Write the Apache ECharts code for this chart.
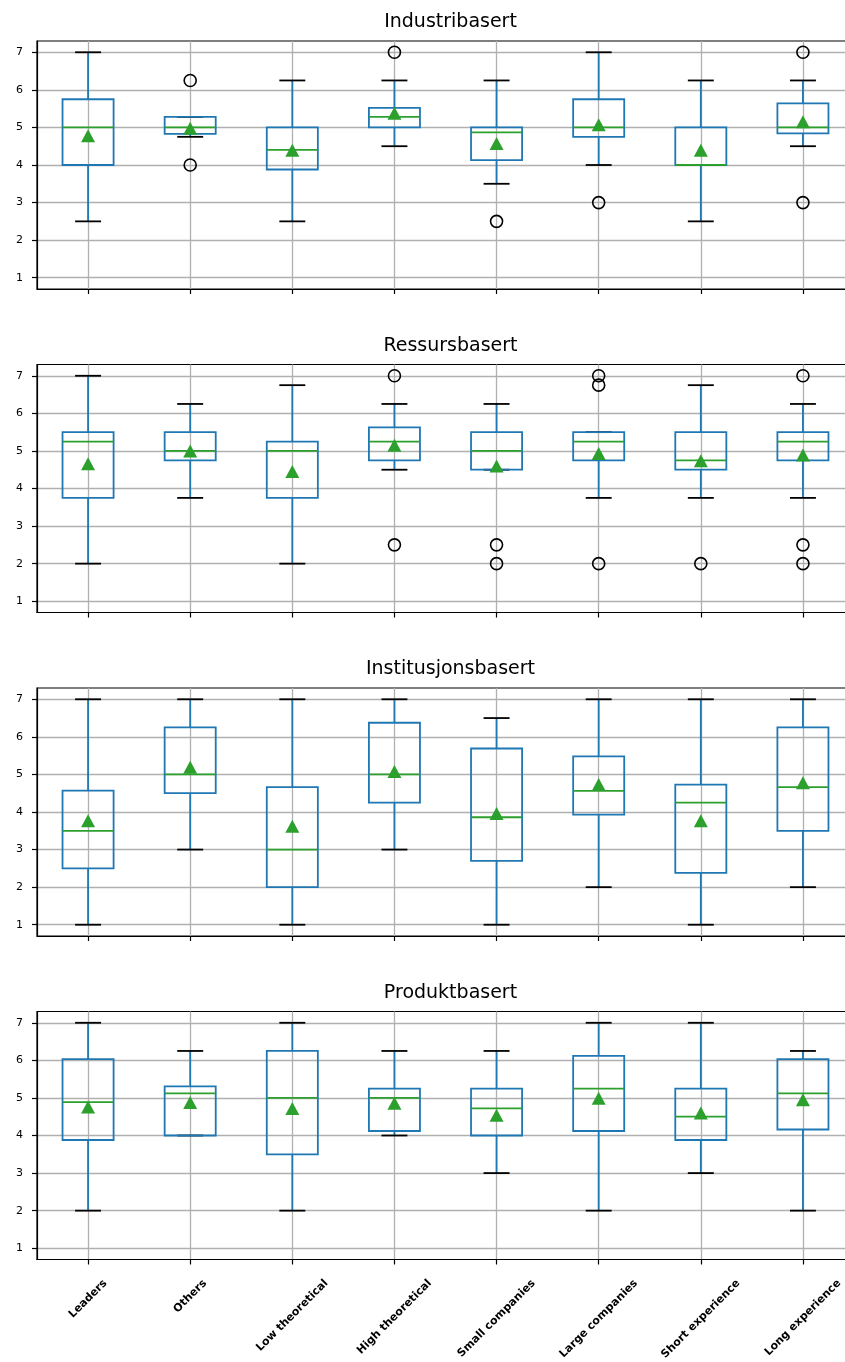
<!DOCTYPE html>
<html>
<head>
<meta charset="utf-8">
<script src="https://cdn.jsdelivr.net/npm/echarts@6/dist/echarts.min.js"></script>
<style>
  html, body { margin: 0; padding: 0; background: #fff; }
  #chart { width: 845px; height: 1362px; }
</style>
</head>
<body>
<div id="chart"></div>
<script>
// Respondent groups shown on every panel
const categories = ['Leaders', 'Others', 'Low theoretical', 'High theoretical',
  'Small companies', 'Large companies', 'Short experience', 'Long experience'];
const panelTitles = ['Industribasert', 'Ressursbasert', 'Institusjonsbasert', 'Produktbasert'];
const yTickValues = [1, 2, 3, 4, 5, 6, 7];

// Box rows per group: [lower whisker, Q1, median, Q3, upper whisker]
const industriBoxes = [
  [2.5, 4, 5, 5.75, 7],
  [4.75, 4.83, 5, 5.28, 5.28],
  [2.5, 3.88, 4.4, 5, 6.25],
  [4.5, 5, 5.28, 5.52, 6.25],
  [3.5, 4.13, 4.87, 5, 6.25],
  [4, 4.75, 5, 5.75, 7],
  [2.5, 4, 4, 5, 6.25],
  [4.5, 4.84, 5, 5.64, 6.25]
];
const industriMeans = [4.78, 4.98, 4.39, 5.38, 4.57, 5.07, 4.39, 5.15];
const industriOutliers = [
  ['Others', 6.25], ['Others', 4], ['High theoretical', 7], ['Small companies', 2.5],
  ['Large companies', 3], ['Long experience', 7], ['Long experience', 3]
];

const ressursBoxes = [
  [2, 3.75, 5.25, 5.5, 7],
  [3.75, 4.75, 5, 5.5, 6.25],
  [2, 3.75, 5, 5.25, 6.75],
  [4.5, 4.75, 5.25, 5.625, 6.25],
  [4.5, 4.5, 5, 5.5, 6.25],
  [3.75, 4.75, 5.25, 5.5, 5.5],
  [3.75, 4.5, 4.75, 5.5, 6.75],
  [3.75, 4.75, 5.25, 5.5, 6.25]
];
const ressursMeans = [4.66, 5.0, 4.45, 5.15, 4.6, 4.93, 4.74, 4.89];
const ressursOutliers = [
  ['High theoretical', 7], ['High theoretical', 2.5],
  ['Small companies', 2.5], ['Small companies', 2],
  ['Large companies', 7], ['Large companies', 6.75], ['Large companies', 2],
  ['Short experience', 2],
  ['Long experience', 7], ['Long experience', 2.5], ['Long experience', 2]
];

const institusjonBoxes = [
  [1, 2.5, 3.5, 4.57, 7],
  [3, 4.5, 5, 6.25, 7],
  [1, 2, 3, 4.66, 7],
  [3, 4.25, 5, 6.375, 7],
  [1, 2.7, 3.86, 5.69, 6.5],
  [2, 3.93, 4.56, 5.48, 7],
  [1, 2.38, 4.25, 4.73, 7],
  [2, 3.5, 4.66, 6.25, 7]
];
const institusjonMeans = [3.77, 5.19, 3.62, 5.08, 3.96, 4.73, 3.77, 4.78];
const institusjonOutliers = [];

const produktBoxes = [
  [2, 3.88, 4.89, 6.03, 7],
  [4, 4, 5.12, 5.31, 6.25],
  [2, 3.5, 5, 6.25, 7],
  [4, 4.12, 5, 5.25, 6.25],
  [3, 4, 4.72, 5.25, 6.25],
  [2, 4.12, 5.25, 6.12, 7],
  [3, 3.88, 4.5, 5.25, 7],
  [2, 4.16, 5.12, 6.03, 6.25]
];
const produktMeans = [4.76, 4.88, 4.72, 4.86, 4.54, 4.99, 4.6, 4.95];
const produktOutliers = [];

const panels = [
  { boxes: industriBoxes, means: industriMeans, outliers: industriOutliers },
  { boxes: ressursBoxes, means: ressursMeans, outliers: ressursOutliers },
  { boxes: institusjonBoxes, means: institusjonMeans, outliers: institusjonOutliers },
  { boxes: produktBoxes, means: produktMeans, outliers: produktOutliers }
];

// Styling and layout
const BLUE = '#1f77b4';
const GREEN = '#2ca02c';
const GRID_GRAY = '#b0b0b0';
const FONT = '"DejaVu Sans", sans-serif';
const PLOT_LEFT = 37;
const PLOT_WIDTH = 817;   // the plot frame runs slightly past the right edge of the page
const PLOT_HEIGHT = 248;
const PLOT_TOPS = [41, 364.5, 688, 1011.5];
const LABEL_SIZE = 11;

// Rotated category labels: centre each rotated label under its tick,
// padding shifts the text so its bounding box hangs below the axis.
const measureCtx = document.createElement('canvas').getContext('2d');
measureCtx.font = 'bold ' + LABEL_SIZE + 'px ' + FONT;
const labelRich = {};
categories.forEach(function (c, i) {
  const w = measureCtx.measureText(c).width;
  labelRich['c' + i] = {
    fontFamily: FONT, fontSize: LABEL_SIZE, fontWeight: 'bold', color: '#000',
    padding: [w / 2, w / 2, 0, 0]
  };
});

function renderBox(params, api) {
  const x = api.value(0);
  const lo = api.coord([x, api.value(1)]);
  const q1 = api.coord([x, api.value(2)]);
  const med = api.coord([x, api.value(3)]);
  const q3 = api.coord([x, api.value(4)]);
  const hi = api.coord([x, api.value(5)]);
  const band = api.size([1, 0])[0];
  const half = band * 0.25;
  const capHalf = band * 0.127;
  const cx = lo[0];
  const lw = 1.8;
  return {
    type: 'group',
    children: [
      { type: 'line', shape: { x1: cx, y1: q1[1], x2: cx, y2: lo[1] }, style: { stroke: BLUE, lineWidth: lw } },
      { type: 'line', shape: { x1: cx, y1: q3[1], x2: cx, y2: hi[1] }, style: { stroke: BLUE, lineWidth: lw } },
      { type: 'line', shape: { x1: cx - capHalf, y1: lo[1], x2: cx + capHalf, y2: lo[1] }, style: { stroke: '#000', lineWidth: lw } },
      { type: 'line', shape: { x1: cx - capHalf, y1: hi[1], x2: cx + capHalf, y2: hi[1] }, style: { stroke: '#000', lineWidth: lw } },
      { type: 'rect', shape: { x: cx - half, y: q3[1], width: half * 2, height: q1[1] - q3[1] },
        style: { fill: 'none', stroke: BLUE, lineWidth: lw } },
      { type: 'line', shape: { x1: cx - half, y1: med[1], x2: cx + half, y2: med[1] }, style: { stroke: GREEN, lineWidth: lw } }
    ]
  };
}

const grids = [], xAxes = [], yAxes = [], series = [], titles = [];

panels.forEach(function (p, i) {
  const top = PLOT_TOPS[i];
  titles.push({
    text: panelTitles[i],
    left: PLOT_LEFT + PLOT_WIDTH / 2,
    top: top - 33,
    textAlign: 'center',
    textStyle: { fontFamily: FONT, fontSize: 19, fontWeight: 'normal', color: '#000' }
  });
  grids.push({
    left: PLOT_LEFT, top: top, width: PLOT_WIDTH, height: PLOT_HEIGHT,
    outerBoundsMode: 'none', containLabel: false,
    show: true, borderColor: '#000', borderWidth: 1.2, backgroundColor: 'transparent'
  });
  const isLast = i === panels.length - 1;
  xAxes.push({
    type: 'category', gridIndex: i, data: categories, boundaryGap: true,
    axisLine: { show: true, lineStyle: { color: '#000', width: 1.2 } },
    axisTick: { show: true, alignWithLabel: true, interval: 0, length: 5, lineStyle: { color: '#000', width: 1.2 } },
    axisLabel: isLast ? {
      show: true, interval: 0, rotate: 45, margin: 22, align: 'center', verticalAlign: 'middle',
      hideOverlap: false,
      formatter: function (value, idx) { return '{c' + idx + '|' + value + '}'; },
      rich: labelRich
    } : { show: false },
    splitLine: { show: true, alignWithLabel: true, interval: 0, lineStyle: { color: GRID_GRAY, width: 1.3 } }
  });
  yAxes.push({
    type: 'value', gridIndex: i, min: 0.7, max: 7.3, splitNumber: 6,
    axisLine: { show: true, lineStyle: { color: '#000', width: 1.2 } },
    axisTick: { show: true, length: 5, customValues: yTickValues, lineStyle: { color: '#000', width: 1.2 } },
    axisLabel: {
      show: true, customValues: yTickValues,
      margin: 14, fontFamily: FONT, fontSize: 11, color: '#000'
    },
    splitLine: { show: true, lineStyle: { color: GRID_GRAY, width: 1.3 } }
  });
  series.push({
    type: 'custom', xAxisIndex: i, yAxisIndex: i, z: 3, silent: true,
    data: p.boxes.map(function (b, k) { return [k].concat(b); }),
    encode: { x: 0, y: [1, 2, 3, 4, 5] },
    renderItem: renderBox
  });
  series.push({
    type: 'scatter', xAxisIndex: i, yAxisIndex: i, z: 5, silent: true,
    symbol: 'triangle', symbolSize: [14, 13],
    itemStyle: { color: GREEN, opacity: 1 },
    data: p.means.map(function (m, k) { return [k, m]; })
  });
  series.push({
    type: 'scatter', xAxisIndex: i, yAxisIndex: i, z: 4, silent: true,
    symbol: 'circle', symbolSize: 12,
    itemStyle: { color: 'rgba(0,0,0,0)', borderColor: '#000', borderWidth: 1.6, opacity: 1 },
    data: p.outliers
  });
});

const chart = echarts.init(document.getElementById('chart'), null, { renderer: 'canvas' });
chart.setOption({
  animation: false,
  backgroundColor: '#fff',
  title: titles,
  grid: grids,
  xAxis: xAxes,
  yAxis: yAxes,
  series: series
});
</script>
</body>
</html>
